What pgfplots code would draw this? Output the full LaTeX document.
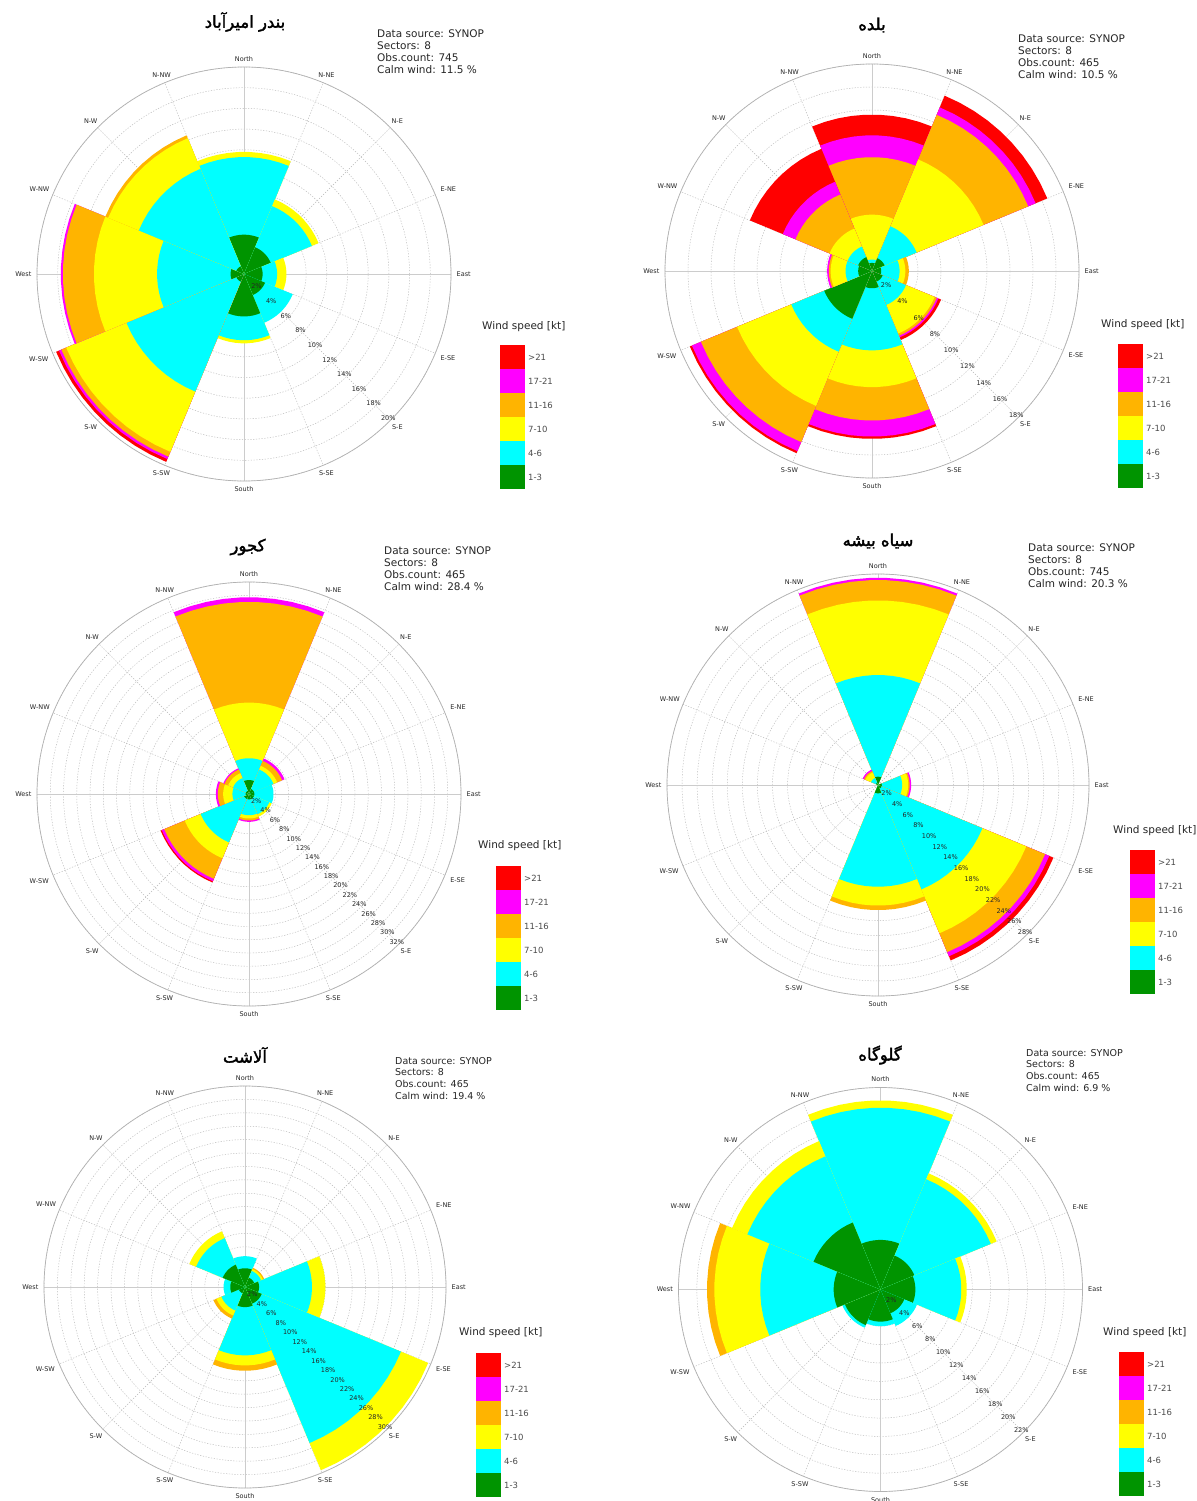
\documentclass[border=0pt]{standalone}
\usepackage{pgfplots}
\pgfplotsset{compat=1.18}
\usepackage{pgfplotstable}
\usepackage{fontspec}
\setmainfont{DejaVu Sans}
\newfontfamily\fa[Script=Arabic,FakeBold=2]{DejaVu Sans}
\TeXXeTstate=1

\definecolor{wred}{HTML}{FF0000}
\definecolor{wmag}{HTML}{FF00FF}
\definecolor{wora}{HTML}{FFB400}
\definecolor{wyel}{HTML}{FFFF00}
\definecolor{wcya}{HTML}{00FFFF}
\definecolor{wgre}{HTML}{009400}

% cumulative radius (%) at the outer edge of each speed class, 0 = class absent
% g: 1-3, c: 4-6, y: 7-10, o: 11-16, m: 17-21, r: >21
\pgfplotstableread{
dir   g    c     y     o     m     r
0     3.8  11.3  11.8  0     0     0
45    2.8  7.1   7.8   0     0     0
90    1.8  3.2   4.1   0     0     0
135   2.2  5.1   0     0     0     0
180   4.1  6.4   6.7   0     0     0
225   0.8  12.3  18.6  19.1  19.35 19.65
270   1.3  8.4   14.5  17.5  17.7  0
315   0.8  11.0  14.2  14.5  0     0
}\tA
\pgfplotstableread{
dir   g    c     y     o     m     r
0     0.7  1.0   4.9   9.9   11.8  13.6
45    1.2  4.2   10.5  14.7  15.4  16.5
90    0.8  2.4   2.9   3.2   0     0
135   1.0  3.2   5.9   6.1   6.25  6.5
180   1.5  6.9   10.1  13.0  14.4  14.6
225   4.5  7.6   12.7  16.1  16.95 17.15
270   1.2  2.3   3.6   3.75  3.9   0
315   1.3  2.3   4.0   7.2   8.4   11.5
}\tB
\pgfplotstableread{
dir   g    c     y     o     m     r
0     2.1  5.4   13.8  29.0  29.7  0
45    0.8  4.0   4.6   5.4   5.8   0
90    0.8  3.7   0     0     0     0
135   0.8  3.3   3.7   0     0     0
180   0.8  3.2   3.7   4.0   4.2   0
225   0.8  7.9   10.5  13.85 14.25 14.45
270   0.5  2.5   3.9   4.7   5.0   0
315   0.5  2.6   3.4   4.0   4.2   0
}\tC
\pgfplotstableread{
dir   g    c     y     o     m     r
0     1.1  14.6  24.5  27.2  27.5  0
45    0    0     0     0     0     0
90    0.5  3.2   4.0   4.2   4.4   0
135   0.5  15.0  21.3  24.0  24.6  25.2
180   1.1  13.5  16.0  16.6  0     0
225   0    0     0     0     0     0
270   0    0     0     0     0     0
315   0.3  1.0   1.8   2.0   2.2   0
}\tD
\pgfplotstableread{
dir   g    c     y     o     m     r
0     2.8  4.6   0     0     0     0
45    1.5  2.6   2.9   3.1   0     0
90    2.1  10.0  12.0  0     0     0
135   2.7  25.2  29.6  0     0     0
180   3.0  10.2  11.7  12.5  0     0
225   1.0  3.8   4.6   5.1   0     0
270   2.2  3.2   0     0     0     0
315   3.6  7.9   9.0   0     0     0
}\tE
\pgfplotstableread{
dir   g    c     y     o     m     r
0     5.4  19.8  20.6  0     0     0
45    4.0  13.0  13.7  0     0     0
90    3.8  8.8   9.4   0     0     0
135   2.8  4.3   0     0     0     0
180   3.5  4.0   0     0     0     0
225   4.2  4.5   0     0     0     0
270   5.1  13.1  18.1  18.9  0     0
315   7.9  15.7  17.5  0     0     0
}\tF

% one 45 degree sector from the centre out to radius #3 (compass direction #2)
\newcommand\windsec[3]{%
  \pgfmathsetmacro\wr{#3}%
  \ifdim\wr pt>0.001pt
    \gdef\wpts{(0,0)}%
    \foreach \kk in {0,...,9}{%
      \pgfmathsetmacro\wa{#2-22.5+5*\kk}%
      \pgfmathsetmacro\wx{\wr*sin(\wa)}%
      \pgfmathsetmacro\wy{\wr*cos(\wa)}%
      \xdef\wpts{\wpts (\wx,\wy)}%
    }%
    \edef\wdo{\noexpand\addplot[draw=none,fill=#1] coordinates {\wpts (0,0)};}%
    \wdo
  \fi}

\newcommand\rose[1]{%
  \foreach \row in {0,...,7}{%
    \pgfplotstablegetelem{\row}{dir}\of#1\edef\dd{\pgfplotsretval}%
    \foreach \col/\cc in {r/wred,m/wmag,o/wora,y/wyel,c/wcya,g/wgre}{%
      \pgfplotstablegetelem{\row}{\col}\of#1%
      \windsec{\cc}{\dd}{\pgfplotsretval}}%
  }}

\newcommand\roseaxis[5]{% cx cy R max table
  \pgfmathsetmacro\rwd{2*#3}%
  \begin{axis}[at={(#1pt,-#2pt)}, anchor=center, scale only axis,
      width=\rwd pt, height=\rwd pt,
      xmin=-#4, xmax=#4, ymin=-#4, ymax=#4, hide axis, clip=false]
    \rose{#5}
  \end{axis}}

\newcommand\rosegrid[4]{% cx cy R max
  \begin{scope}[shift={(#1pt,-#2pt)}]
    \foreach \val in {2,4,...,#4}{%
      \pgfmathsetmacro\rad{\val*#3/#4}%
      \draw[gray!55, line width=0.45pt, dash pattern=on 1.2pt off 1.6pt] (0,0) circle[radius=\rad pt];}
    \foreach \ang in {0,22.5,...,337.5}{%
      \draw[gray!55, line width=0.45pt, dash pattern=on 1.2pt off 1.6pt] (0,0) -- (\ang:#3pt);}
    \draw[gray!40, line width=0.5pt] (-#3pt,0) -- (#3pt,0) (0,-#3pt) -- (0,#3pt);
    \draw[gray!60, line width=0.7pt] (0,0) circle[radius=#3pt];
    \pgfmathsetmacro\lr{#3+4}%
    \foreach \cdir/\lab in {0/North,22.5/N-NE,45/N-E,67.5/E-NE,90/East,112.5/E-SE,135/S-E,157.5/S-SE,180/South,202.5/S-SW,225/S-W,247.5/W-SW,270/West,292.5/W-NW,315/N-W,337.5/N-NW}{%
      \pgfmathsetmacro\an{mod(630-\cdir,360)}%
      \pgfmathsetmacro\ma{90-\cdir}%
      \node[font=\fontsize{6.5}{7}\selectfont, text=gray!30!black, anchor=\an, inner sep=1.5pt] at (\ma:\lr pt) {\lab};}
  \end{scope}}

\newcommand\roseticks[4]{% cx cy R max
  \begin{scope}[shift={(#1pt,-#2pt)}]
    \foreach \val in {2,4,...,#4}{%
      \pgfmathsetmacro\rad{\val*#3/#4-3}%
      \node[font=\fontsize{6.5}{7}\selectfont, text=black!85, inner sep=0pt] at (-45:\rad pt) {\val\%};}
  \end{scope}}

\newcommand\windlegend[4]{% title x, title top, box x, box top
  \node[anchor=north west, inner sep=0pt, font=\fontsize{10.5}{12}\selectfont, text=black!85] at (#1pt,-#2pt) {Wind speed [kt]};
  \foreach \ii/\cc/\lab in {0/wred/{>21},1/wmag/17-21,2/wora/11-16,3/wyel/7-10,4/wcya/4-6,5/wgre/1-3}{%
    \pgfmathsetmacro\yt{-#4-24*\ii}%
    \pgfmathsetmacro\ym{-#4-24*\ii-12}%
    \pgfmathsetmacro\xl{#3+28}%
    \fill[\cc] (#3pt,\yt pt) rectangle ++(25pt,-24pt);
    \node[anchor=west, inner sep=0pt, font=\fontsize{8.5}{10}\selectfont, text=black!70] at (\xl pt,\ym pt) {\lab};}}

\newcommand\header[5]{% x top obs calm fontsize
  \node[anchor=north west, align=left, inner sep=0pt, font=\fontsize{#5}{11.7}\selectfont, text=black!85] at (#1pt,-#2pt)
    {Data source: SYNOP\\Sectors: 8\\Obs.count: #3\\Calm wind: #4 \%};}

\tikzset{stitle/.style={inner sep=0pt, font={\fa\fontsize{16.5}{18}\selectfont}}}

\begin{document}
\begin{tikzpicture}
\useasboundingbox (0,0) rectangle (1196pt,-1501pt);
\fill[white] (0,0) rectangle (1196pt,-1501pt);

% Bandar Amirabad
\rosegrid{244}{274}{207}{20}
\roseaxis{244}{274}{207}{20}{\tA}
\roseticks{244}{274}{207}{20}
\node[stitle] at (245pt,-22pt) {\beginR بندر امیرآباد\endR};
\header{377}{30}{745}{11.5}{10.5}
\windlegend{482}{321}{500}{345}

% Baladeh
\rosegrid{872}{271}{207}{18}
\roseaxis{872}{271}{207}{18}{\tB}
\roseticks{872}{271}{207}{18}
\node[stitle] at (872pt,-25pt) {\beginR بلده\endR};
\header{1018}{35}{465}{10.5}{10.5}
\windlegend{1101}{319}{1118}{344}

% Kojur
\rosegrid{249}{794}{212}{32}
\roseaxis{249}{794}{212}{32}{\tC}
\roseticks{249}{794}{212}{32}
\node[stitle] at (248pt,-547pt) {\beginR کجور\endR};
\header{384}{547}{465}{28.4}{10.5}
\windlegend{478}{840}{496}{866}

% Siah Bisheh
\rosegrid{878}{785}{211}{28}
\roseaxis{878}{785}{211}{28}{\tD}
\roseticks{878}{785}{211}{28}
\node[stitle] at (878pt,-541pt) {\beginR سیاه بیشه\endR};
\header{1028}{544}{745}{20.3}{10.5}
\windlegend{1113}{825}{1130}{850}

% Alasht
\rosegrid{245}{1287}{201}{30}
\roseaxis{245}{1287}{201}{30}{\tE}
\roseticks{245}{1287}{201}{30}
\node[stitle] at (245pt,-1055pt) {\beginR آلاشت\endR};
\header{395}{1057}{465}{19.4}{9.5}
\windlegend{459}{1327}{476}{1353}

% Galugah
\rosegrid{880.5}{1289.5}{202}{22}
\roseaxis{880.5}{1289.5}{202}{22}{\tF}
\roseticks{880.5}{1289.5}{202}{22}
\node[stitle] at (880pt,-1055pt) {\beginR گلوگاه\endR};
\header{1026}{1049}{465}{6.9}{9.5}
\windlegend{1103}{1327}{1119}{1352}
\end{tikzpicture}
\end{document}
